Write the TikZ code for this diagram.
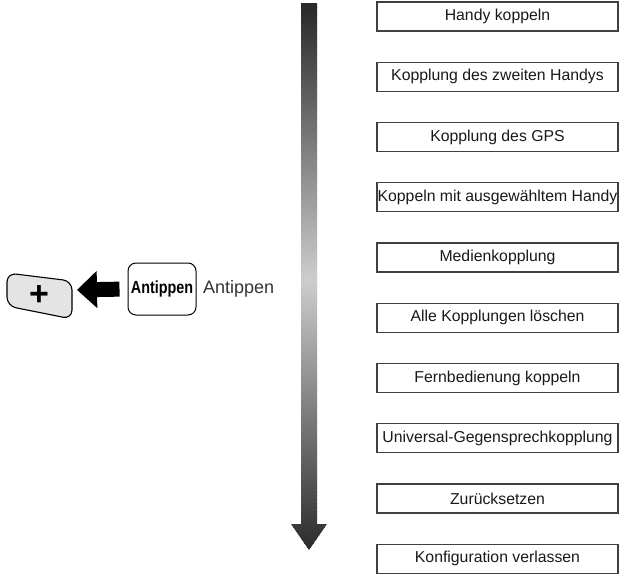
\documentclass[tikz,border=0pt]{standalone}
\usepackage{fontspec}
\setmainfont{Liberation Sans}
\usetikzlibrary{arrows.meta}
\definecolor{arrdark}{HTML}{2A2A2A}
\definecolor{arrlight}{HTML}{CDCDCD}
\definecolor{btnfill}{HTML}{E4E4E4}
\begin{document}
\begin{tikzpicture}[x=1pt,y=-1pt,
  menubox/.style={draw=black!75, line width=1.1pt, minimum width=241pt, minimum height=29pt,
    inner sep=0pt, font=\fontsize{15.8}{17}\selectfont, text=black!90},
  tapbox/.style={draw=black, line width=1pt, rounded corners=8pt, minimum width=68pt,
    minimum height=52pt, inner sep=0pt, font=\bfseries\fontsize{17.5}{18}\selectfont},
  taplabel/.style={font=\fontsize{18}{18}\selectfont, text=black!80, inner sep=0pt, anchor=west},
  bigarrow/.style={line width=15pt, -{Triangle[length=20pt,width=36pt]}}
]
\useasboundingbox (0,0) rectangle (621,576);

% gradient timeline arrow (drawn as thin strips for a dark-light-dark gradient)
\begin{scope}
  \clip (301,3) -- (317,3) -- (317,524) -- (327,524) -- (309,550) -- (291,524) -- (301,524) -- cycle;
  \foreach \k in {0,...,137} {
    \pgfmathsetmacro{\yy}{3+4*\k}
    \pgfmathsetmacro{\pp}{min(100,abs(\yy+2-280)/272*100)}
    \fill[arrdark!\pp!arrlight] (288,\yy) rectangle (330,\yy+4.6);
  }
\end{scope}

% menu boxes
\foreach \t [count=\i from 0] in {Handy koppeln,Kopplung des zweiten Handys,Kopplung des GPS,
  Koppeln mit ausgewähltem Handy,Medienkopplung,Alle Kopplungen löschen,Fernbedienung koppeln,
  Universal-Gegensprechkopplung,Zurücksetzen,Konfiguration verlassen}
  \node[menubox] (b\i) at (497.5,{16.5+60.25*\i}) {\t};

% plus button
\filldraw[fill=btnfill, draw=black, line width=1.1pt, rounded corners=9pt]
  (7,273) -- (72,281) -- (72,319) -- (7,306) -- cycle;
\node[inner sep=0pt, font=\bfseries\fontsize{34}{34}\selectfont] (plus) at (39,296) {+};
\coordinate (btnR) at (72,290);

% tap box and label
\node[tapbox] (tap) at (162,289) {\scalebox{0.82}[1]{Antippen}};
\node[taplabel] (taplbl) at (203,289) {Antippen};

% black arrow from tap box to button
\draw[bigarrow, shorten <=8pt, shorten >=5pt] (tap.west) -- (btnR);
\end{tikzpicture}
\end{document}
